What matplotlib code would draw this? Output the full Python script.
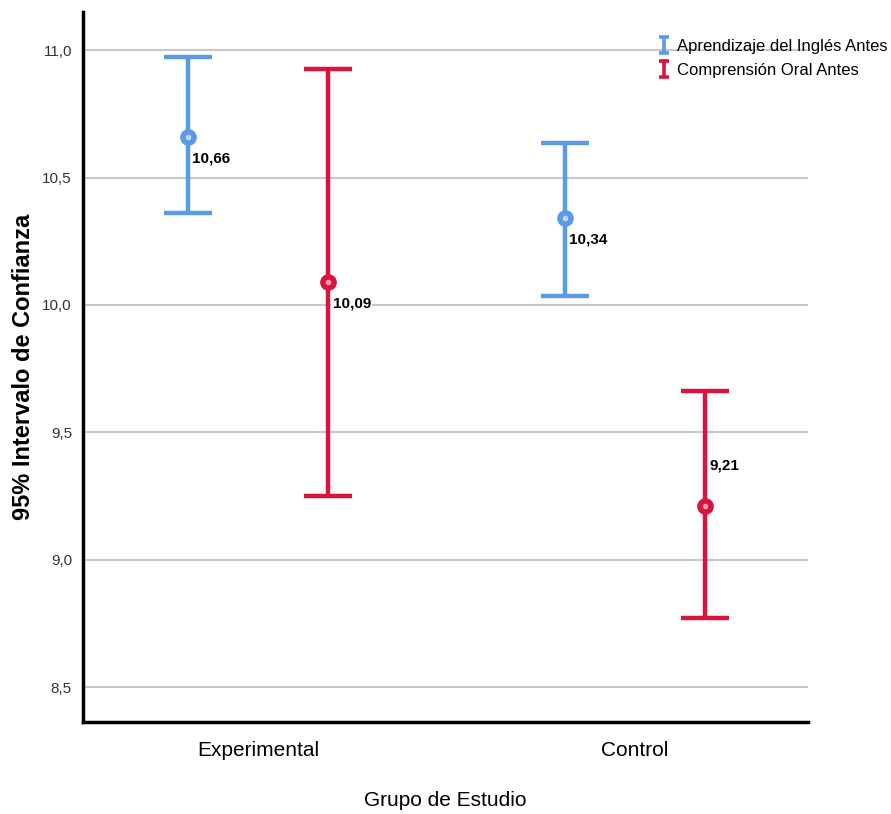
import matplotlib
matplotlib.use('Agg')
import matplotlib.pyplot as plt
from matplotlib.lines import Line2D
from matplotlib.path import Path
import numpy as np

# data
groups = ['Experimental', 'Control']
series = ['Aprendizaje del Inglés Antes', 'Comprensión Oral Antes']
means = {
	'Aprendizaje del Inglés Antes': [10.66, 10.34],
	'Comprensión Oral Antes': [10.09, 9.21],
}
lower = {
	'Aprendizaje del Inglés Antes': [10.36, 10.035],
	'Comprensión Oral Antes': [9.25, 8.77],
}
upper = {
	'Aprendizaje del Inglés Antes': [10.975, 10.637],
	'Comprensión Oral Antes': [10.925, 9.662],
}
labels = {
	'Aprendizaje del Inglés Antes': ['10,66', '10,34'],
	'Comprensión Oral Antes': ['10,09', '9,21'],
}
yticks = [8.5, 9.0, 9.5, 10.0, 10.5, 11.0]
colors = ['#5b9be6', '#d8143f']
offsets = [-0.186, 0.186]

plt.rcParams['font.family'] = ['Liberation Sans', 'DejaVu Sans']

# small "I" shaped marker for the legend
ibeam = Path([(-0.6, 1), (0.6, 1), (0, 1), (0, -1), (-0.6, -1), (0.6, -1)],
	[Path.MOVETO, Path.LINETO, Path.MOVETO, Path.LINETO, Path.MOVETO, Path.LINETO])

fig = plt.figure(figsize=(8.91, 8.14), dpi=100)
ax = fig.add_axes([0.0932, 0.113, 0.8136, 0.872])

handles = []
x = np.arange(len(groups))
for name, col, off in zip(series, colors, offsets):
	m = np.array(means[name])
	lo = m - np.array(lower[name])
	hi = np.array(upper[name]) - m
	ax.errorbar(x + off, m, yerr=[lo, hi], fmt='none', ecolor=col,
		elinewidth=3.2, capsize=17, capthick=3.2, zorder=3)
	handles.append(Line2D([], [], linestyle='none', marker=ibeam, markersize=11,
		markeredgewidth=2.6, markerfacecolor='none', color=col))
	ax.plot(x + off, m, 'o', color=col, markersize=11, markerfacecolor=col,
		markeredgecolor=col, zorder=4)
	ax.plot(x + off, m, 'o', color='white', markersize=3, alpha=0.5, zorder=5)
	for xi, mi, lab in zip(x + off, m, labels[name]):
		if lab == '9,21':
			dy = 0.16
		else:
			dy = -0.085
		ax.text(xi + 0.012, mi + dy, lab, fontsize=11, fontweight='bold',
			va='center', ha='left', zorder=6,
			bbox=dict(facecolor='white', edgecolor='none', pad=1.0))

ax.set_xlim(-0.464, 1.459)
ax.set_ylim(8.363, 11.149)
ax.set_yticks(yticks)
ax.set_yticklabels([('%.1f' % v).replace('.', ',') for v in yticks], fontsize=11, color='#333333')
ax.set_xticks(x)
ax.set_xticklabels(groups, fontsize=15)
ax.tick_params(axis='both', length=0)
ax.tick_params(axis='y', pad=8)
ax.tick_params(axis='x', pad=14)
ax.yaxis.grid(True, color='#c8c8c8', linewidth=1.5)
ax.set_axisbelow(True)
for s in ['top', 'right']:
	ax.spines[s].set_visible(False)
for s in ['left', 'bottom']:
	ax.spines[s].set_linewidth(2.5)
	ax.spines[s].set_color('black')

ax.set_ylabel('95% Intervalo de Confianza', fontsize=17, fontweight='bold', labelpad=5)
ax.set_xlabel('Grupo de Estudio', fontsize=15, labelpad=22)

leg = ax.legend(handles, series, loc='upper left', bbox_to_anchor=(0.785, 0.972),
	frameon=False, fontsize=12, handlelength=0.6, handletextpad=0.5,
	labelspacing=0.55, borderaxespad=0)

fig.savefig('out.png', dpi=100)
